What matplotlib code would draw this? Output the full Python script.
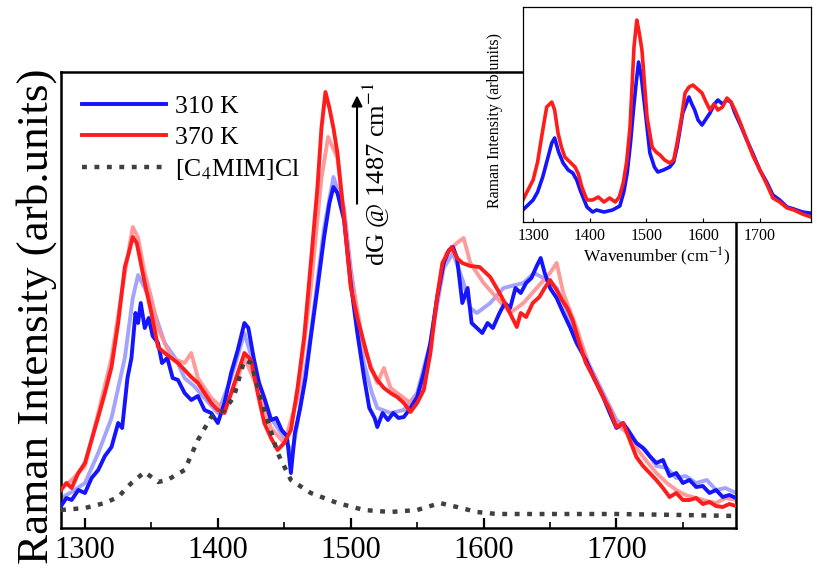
import numpy as np
import matplotlib
matplotlib.use('Agg')
from matplotlib import pyplot as plt
from matplotlib.ticker import MultipleLocator

plt.rcParams['font.family'] = ['Liberation Serif', 'DejaVu Serif']
plt.rcParams['mathtext.fontset'] = 'stix'

# main panel, wavenumber (cm-1) vs intensity (arb. units)
wn_310 = [1282, 1286, 1290, 1295, 1300, 1305, 1310, 1315, 1320, 1325, 1328, 1332, 1335, 1338, 1340,
          1342, 1345, 1348, 1351, 1355, 1358, 1362, 1366, 1370, 1375, 1380, 1385, 1390, 1395, 1400,
          1405, 1410, 1415, 1420, 1423, 1427, 1431, 1435, 1440, 1444, 1448, 1452, 1455, 1458, 1462,
          1466, 1470, 1475, 1480, 1484, 1487, 1490, 1495, 1500, 1505, 1510, 1514, 1518, 1520, 1524,
          1528, 1532, 1536, 1540, 1545, 1550, 1555, 1560, 1565, 1570, 1574, 1577, 1580, 1584, 1588,
          1591, 1595, 1599, 1603, 1607, 1612, 1616, 1620, 1624, 1628, 1632, 1636, 1640, 1643, 1646,
          1650, 1655, 1660, 1665, 1670, 1677, 1683, 1690, 1695, 1700, 1705, 1710, 1715, 1720, 1725,
          1730, 1735, 1740, 1745, 1750, 1755, 1760, 1765, 1770, 1775, 1780, 1785, 1790]
int_310 = [22, 30, 28, 38, 35, 50, 58, 72, 81, 105, 100, 150, 170, 215, 205,
           225, 200, 210, 192, 185, 165, 170, 150, 148, 135, 128, 132, 118, 115, 105,
           125, 155, 178, 205, 200, 170, 145, 130, 108, 110, 98, 92, 55, 95, 120,
           150, 191, 240, 291, 325, 341, 335, 308, 245, 195, 151, 120, 110, 101, 115,
           108, 115, 110, 111, 120, 131, 155, 185, 230, 265, 278, 281, 270, 225, 240,
           205, 200, 195, 205, 200, 215, 225, 220, 240, 235, 245, 250, 262, 270, 255,
           240, 230, 215, 201, 185, 168, 150, 131, 115, 100, 105, 95, 85, 80, 72,
           65, 68, 52, 55, 45, 48, 41, 42, 35, 38, 31, 33, 30]

wn_370 = [1282, 1286, 1290, 1295, 1300, 1305, 1310, 1315, 1320, 1325, 1330, 1333, 1336, 1339, 1342,
          1345, 1350, 1355, 1360, 1365, 1370, 1375, 1380, 1385, 1390, 1395, 1400, 1405, 1410, 1415,
          1420, 1425, 1430, 1435, 1440, 1445, 1450, 1455, 1460, 1465, 1470, 1475, 1478, 1481, 1484,
          1487, 1490, 1495, 1500, 1505, 1510, 1515, 1520, 1525, 1530, 1535, 1540, 1545, 1550, 1555,
          1560, 1565, 1569, 1573, 1576, 1580, 1584, 1590, 1597, 1605, 1612, 1618, 1625, 1628, 1632,
          1637, 1642, 1646, 1650, 1655, 1659, 1663, 1667, 1672, 1677, 1683, 1690, 1695, 1700, 1705,
          1710, 1715, 1720, 1725, 1730, 1735, 1740, 1745, 1750, 1755, 1760, 1765, 1770, 1775, 1780,
          1785, 1790]
int_370 = [38, 45, 40, 55, 65, 88, 111, 135, 161, 205, 261, 275, 291, 285, 265,
           245, 215, 181, 175, 170, 165, 158, 151, 145, 135, 125, 118, 115, 135, 155,
           175, 168, 135, 105, 90, 78, 85, 98, 140, 191, 265, 341, 400, 436, 420,
           400, 375, 310, 241, 210, 185, 160, 148, 140, 135, 131, 125, 116, 125, 138,
           175, 231, 265, 275, 281, 270, 265, 262, 261, 251, 235, 220, 201, 215, 211,
           225, 231, 240, 248, 238, 228, 220, 208, 185, 165, 150, 131, 118, 101, 105,
           88, 71, 62, 55, 48, 40, 31, 35, 28, 28, 30, 24, 26, 22, 21,
           24, 22]

# intermediate temperatures (light blue / light red traces)
wn_mid_a = [1282, 1290, 1300, 1310, 1320, 1330, 1336, 1340, 1345, 1350, 1355, 1360, 1368, 1375, 1382,
            1390, 1400, 1410, 1420, 1430, 1440, 1450, 1456, 1460, 1470, 1480, 1487, 1495, 1500, 1510,
            1516, 1520, 1530, 1540, 1550, 1560, 1570, 1577, 1585, 1590, 1595, 1605, 1615, 1630, 1638,
            1645, 1655, 1665, 1677, 1690, 1700, 1708, 1715, 1722, 1730, 1738, 1745, 1752, 1760, 1768,
            1775, 1782, 1790]
int_mid_a = [30, 36, 45, 75, 110, 170, 230, 253, 240, 225, 205, 185, 170, 150, 142,
             130, 115, 150, 195, 150, 110, 90, 75, 105, 195, 300, 351, 320, 260, 165,
             135, 120, 115, 118, 135, 185, 260, 275, 245, 220, 215, 225, 240, 245, 255,
             250, 240, 210, 170, 135, 108, 100, 85, 78, 62, 60, 50, 52, 45, 48,
             38, 40, 35]

wn_mid_b = [1282, 1290, 1300, 1310, 1320, 1330, 1336, 1340, 1345, 1350, 1355, 1365, 1375, 1380, 1385,
            1395, 1405, 1415, 1420, 1430, 1440, 1450, 1460, 1470, 1478, 1483, 1490, 1500, 1510, 1520,
            1525, 1530, 1545, 1555, 1565, 1572, 1580, 1585, 1590, 1600, 1610, 1620, 1630, 1640, 1650,
            1655, 1660, 1670, 1680, 1690, 1700, 1708, 1715, 1722, 1730, 1738, 1745, 1752, 1760, 1768,
            1775, 1782, 1790]
int_mid_b = [40, 48, 62, 115, 170, 255, 301, 290, 255, 230, 200, 170, 165, 175, 150,
             130, 118, 150, 170, 140, 100, 85, 130, 240, 350, 391, 370, 255, 180, 145,
             160, 140, 125, 140, 230, 275, 285, 290, 265, 245, 230, 215, 225, 240, 255,
             265, 235, 200, 160, 132, 104, 95, 80, 68, 55, 45, 38, 33, 30, 27,
             25, 30, 28]

# [C4MIM]Cl reference spectrum
wn_ref = [1282, 1300, 1315, 1325, 1335, 1345, 1355, 1362, 1375, 1385, 1395, 1405, 1412, 1420, 1425,
          1435, 1445, 1455, 1470, 1490, 1510, 1530, 1550, 1560, 1567, 1580, 1595, 1610, 1650, 1700,
          1750, 1790]
int_ref = [18, 20, 25, 31, 45, 56, 46, 48, 58, 88, 111, 118, 131, 168, 165,
           118, 75, 48, 35, 25, 18, 16, 18, 22, 25, 21, 16, 14, 14, 14,
           13, 12]

# inset: 310 K and 370 K only
wn_in_310 = [1282, 1300, 1308, 1317, 1325, 1333, 1338, 1345, 1353, 1362, 1370, 1377, 1383, 1395, 1405,
             1412, 1425, 1440, 1453, 1460, 1466, 1472, 1477, 1482, 1486, 1491, 1497, 1506, 1514, 1520,
             1530, 1541, 1548, 1554, 1564, 1575, 1580, 1585, 1591, 1598, 1605, 1612, 1620, 1626, 1634,
             1642, 1649, 1656, 1665, 1677, 1688, 1700, 1712, 1723, 1735, 1748, 1760, 1775, 1788]
int_in_310 = [12, 22, 30, 45, 62, 79, 84, 70, 59, 52, 49, 42, 32, 15, 10,
              12, 10, 12, 16, 30, 49, 80, 112, 140, 160, 145, 115, 69, 55, 50,
              52, 55, 60, 75, 109, 125, 118, 112, 102, 97, 103, 109, 118, 122, 118,
              122, 120, 109, 98, 82, 68, 52, 40, 27, 22, 15, 13, 10, 9]
wn_in_370 = [1282, 1300, 1308, 1315, 1324, 1333, 1338, 1344, 1350, 1356, 1365, 1374, 1380, 1386, 1395,
             1405, 1415, 1425, 1435, 1445, 1452, 1459, 1465, 1471, 1478, 1483, 1487, 1492, 1501, 1510,
             1517, 1524, 1532, 1541, 1548, 1554, 1562, 1568, 1575, 1582, 1590, 1598, 1605, 1612, 1619,
             1626, 1634, 1642, 1649, 1656, 1665, 1677, 1688, 1700, 1712, 1723, 1735, 1748, 1760, 1775,
             1790]
int_in_370 = [22, 42, 60, 85, 115, 120, 112, 89, 75, 65, 60, 55, 48, 35, 22,
              22, 25, 20, 24, 20, 25, 39, 60, 95, 175, 202, 190, 172, 105, 75,
              70, 67, 62, 59, 62, 79, 105, 129, 135, 137, 133, 129, 120, 112, 118,
              112, 115, 124, 120, 112, 100, 82, 66, 52, 38, 24, 20, 14, 12, 8,
              5]

fig = plt.figure(figsize=(8.17, 5.71), dpi=100)
ax = fig.add_axes([0.0747, 0.0753, 0.8262, 0.7986])

ax.plot(wn_mid_a, int_mid_a, color='#9a9aff', lw=2.8, alpha=0.9, zorder=2)
ax.plot(wn_mid_b, int_mid_b, color='#ff9090', lw=2.8, alpha=0.9, zorder=2)
ax.plot(wn_310, int_310, color='#1414ff', lw=2.8, label='310 K', zorder=3)
ax.plot(wn_370, int_370, color='#ff1c1c', lw=2.8, label='370 K', zorder=4)
ax.plot(wn_ref, int_ref, color='#404040', lw=3.2, linestyle=(0, (1.1, 1.7)),
        label='[C$_4$MIM]Cl', zorder=5)

ax.set_xlim(1282, 1790)
ax.set_ylim(0, 456)
ax.set_yticks([])
ax.xaxis.set_major_locator(MultipleLocator(100))
ax.xaxis.set_minor_locator(MultipleLocator(50))
ax.tick_params(axis='x', which='major', direction='in', length=7, width=1.6,
               labelsize=22, pad=6)
ax.tick_params(axis='x', which='minor', direction='in', length=4, width=1.2)
for s in ax.spines.values():
    s.set_linewidth(1.8)

ax.set_ylabel('Raman Intensity (arb.units)', fontsize=32.5)
ax.yaxis.set_label_coords(-0.006, 0.465)

leg = ax.legend(loc='upper left', bbox_to_anchor=(0.0, 0.995), frameon=False,
                fontsize=18.5, handlelength=3.3, handletextpad=0.35,
                labelspacing=0.32, borderaxespad=0.4)

ax.annotate('', xy=(0.4385, 0.955), xytext=(0.4385, 0.705), xycoords='axes fraction',
            arrowprops=dict(arrowstyle='-|>', color='black', lw=1.5, mutation_scale=16))
ax.text(0.467, 0.775, 'dG @ 1487 cm$^{-1}$', transform=ax.transAxes, rotation=90,
        ha='center', va='center', fontsize=19)

# inset
axi = fig.add_axes([0.640, 0.6112, 0.3525, 0.3765])
axi.set_facecolor('white')
axi.plot(wn_in_310, int_in_310, color='#1414ff', lw=2.6)
axi.plot(wn_in_370, int_in_370, color='#ff1c1c', lw=2.6)
axi.set_xlim(1282, 1790)
axi.set_ylim(0, 215)
axi.set_yticks([])
axi.xaxis.set_major_locator(MultipleLocator(100))
axi.tick_params(axis='x', direction='in', length=3, width=0.8, labelsize=11.5, pad=4)
for s in axi.spines.values():
    s.set_linewidth(0.9)
axi.set_ylabel('Raman Intensity (arb.units)', fontsize=11.5)
axi.yaxis.set_label_coords(-0.07, 0.47)
axi.set_xlabel('Wavenumber (cm$^{-1}$)', fontsize=12.5)
axi.xaxis.set_label_coords(0.465, -0.11)

fig.savefig('out.png', dpi=100)
